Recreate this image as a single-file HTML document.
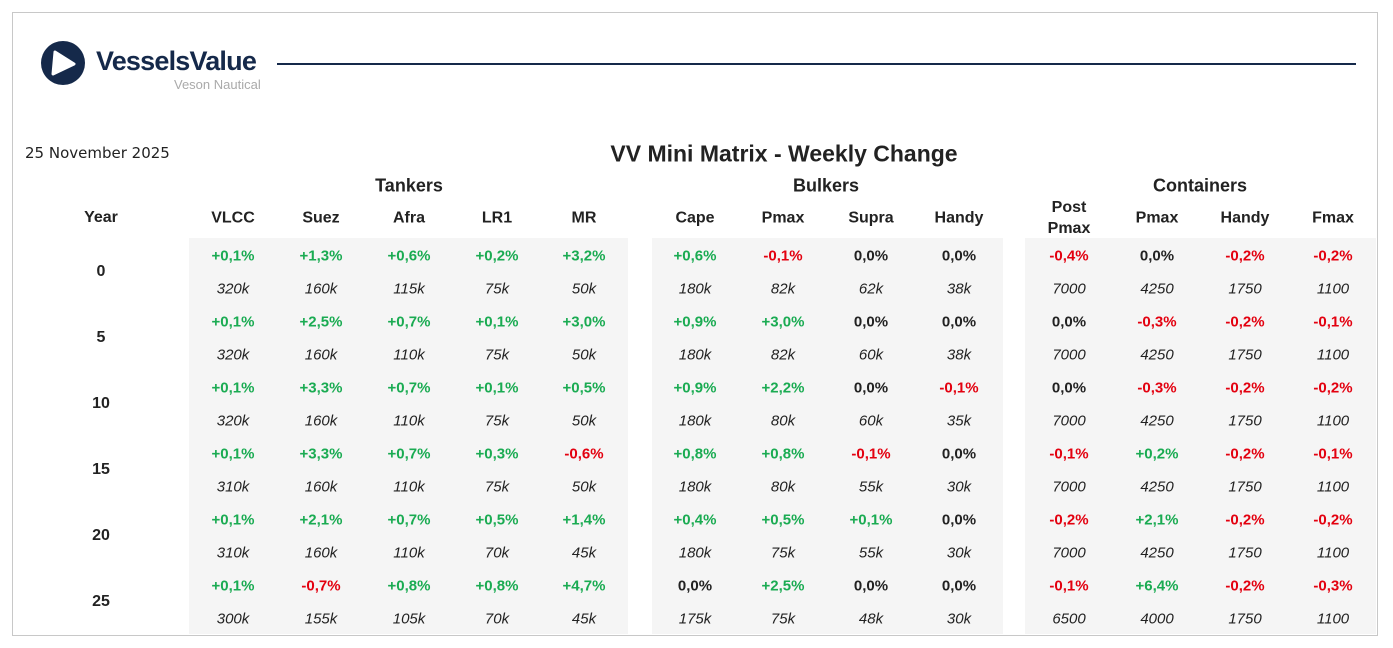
<!DOCTYPE html>
<html><head><meta charset="utf-8"><style>
body{margin:0;width:1393px;height:648px;background:#fff;font-family:"Liberation Sans",Arial,sans-serif;position:relative;overflow:hidden}
.a{position:absolute;transform:translate(-50%,-50%);white-space:nowrap}
.box{position:absolute;left:12px;top:12px;width:1364px;height:622px;border:1px solid #c8c8c8}
.bg{position:absolute;background:#f5f5f5;top:238px;height:396px}
.p{font-size:15px;font-weight:bold}
.g{color:#1aab52}.r{color:#e3000f}.k{color:#222}
.v{font-size:15px;font-style:italic;color:#222}
.h{font-size:16px;font-weight:bold;color:#222}
.gt{font-size:18px;font-weight:bold;color:#222}
</style></head><body>
<div class="box"></div>
<svg style="position:absolute;left:40px;top:40px" width="46" height="46" viewBox="0 0 46 46"><circle cx="23" cy="23" r="22" fill="#15294a"/><path d="M15 12 L34 24 L13 34 Z" fill="#fff" stroke="#fff" stroke-width="3" stroke-linejoin="round"/></svg>
<div style="position:absolute;left:96px;top:46px;font-size:27px;font-weight:bold;color:#15294a;letter-spacing:-0.8px">VesselsValue</div>
<div style="position:absolute;left:174px;top:77px;font-size:13px;color:#aaa">Veson Nautical</div>
<div style="position:absolute;left:277px;top:63px;width:1079px;height:2px;background:#15294a"></div>
<div style="position:absolute;left:25px;top:144px;font-size:15px;color:#222;font-family:'DejaVu Sans',sans-serif">25 November 2025</div>
<div class="a" style="left:784px;top:154px;font-size:23px;font-weight:bold;color:#222">VV Mini Matrix - Weekly Change</div>
<div class="bg" style="left:189px;width:439px"></div>
<div class="bg" style="left:652px;width:351px"></div>
<div class="bg" style="left:1025px;width:351px"></div>
<div id="c"></div>
<script>
const c=document.getElementById('c');let h='';
function t(x,y,cl,s){h+=`<div class="a ${cl}" style="left:${x}px;top:${y}px">${s}</div>`}
t(409,186,'gt','Tankers');t(826,186,'gt','Bulkers');t(1200,186,'gt','Containers');
const xs=[233,321,409,497,584,695,783,871,959,1069,1157,1245,1333];
const hs=['VLCC','Suez','Afra','LR1','MR','Cape','Pmax','Supra','Handy','Post<br>Pmax','Pmax','Handy','Fmax'];
t(101,218,'h','Year');
hs.forEach((s,i)=>h+=`<div class="a h" style="left:${xs[i]}px;top:218px;text-align:center;line-height:21px">${s}</div>`);
const P=[
'+0,1 +1,3 +0,6 +0,2 +3,2 +0,6 -0,1 0,0 0,0 -0,4 0,0 -0,2 -0,2',
'+0,1 +2,5 +0,7 +0,1 +3,0 +0,9 +3,0 0,0 0,0 0,0 -0,3 -0,2 -0,1',
'+0,1 +3,3 +0,7 +0,1 +0,5 +0,9 +2,2 0,0 -0,1 0,0 -0,3 -0,2 -0,2',
'+0,1 +3,3 +0,7 +0,3 -0,6 +0,8 +0,8 -0,1 0,0 -0,1 +0,2 -0,2 -0,1',
'+0,1 +2,1 +0,7 +0,5 +1,4 +0,4 +0,5 +0,1 0,0 -0,2 +2,1 -0,2 -0,2',
'+0,1 -0,7 +0,8 +0,8 +4,7 0,0 +2,5 0,0 0,0 -0,1 +6,4 -0,2 -0,3'];
const V=[
'320k 160k 115k 75k 50k 180k 82k 62k 38k 7000 4250 1750 1100',
'320k 160k 110k 75k 50k 180k 82k 60k 38k 7000 4250 1750 1100',
'320k 160k 110k 75k 50k 180k 80k 60k 35k 7000 4250 1750 1100',
'310k 160k 110k 75k 50k 180k 80k 55k 30k 7000 4250 1750 1100',
'310k 160k 110k 70k 45k 180k 75k 55k 30k 7000 4250 1750 1100',
'300k 155k 105k 70k 45k 175k 75k 48k 30k 6500 4000 1750 1100'];
for(let r=0;r<6;r++){const y=256+66*r;t(101,y+16,'h',String(r*5));
P[r].split(' ').forEach((s,i)=>t(xs[i],y,'p '+(s[0]=='+'?'g':s[0]=='-'?'r':'k'),s+'%'));
V[r].split(' ').forEach((s,i)=>t(xs[i],y+33,'v',s));}
c.innerHTML=h;
</script>
</body></html>
